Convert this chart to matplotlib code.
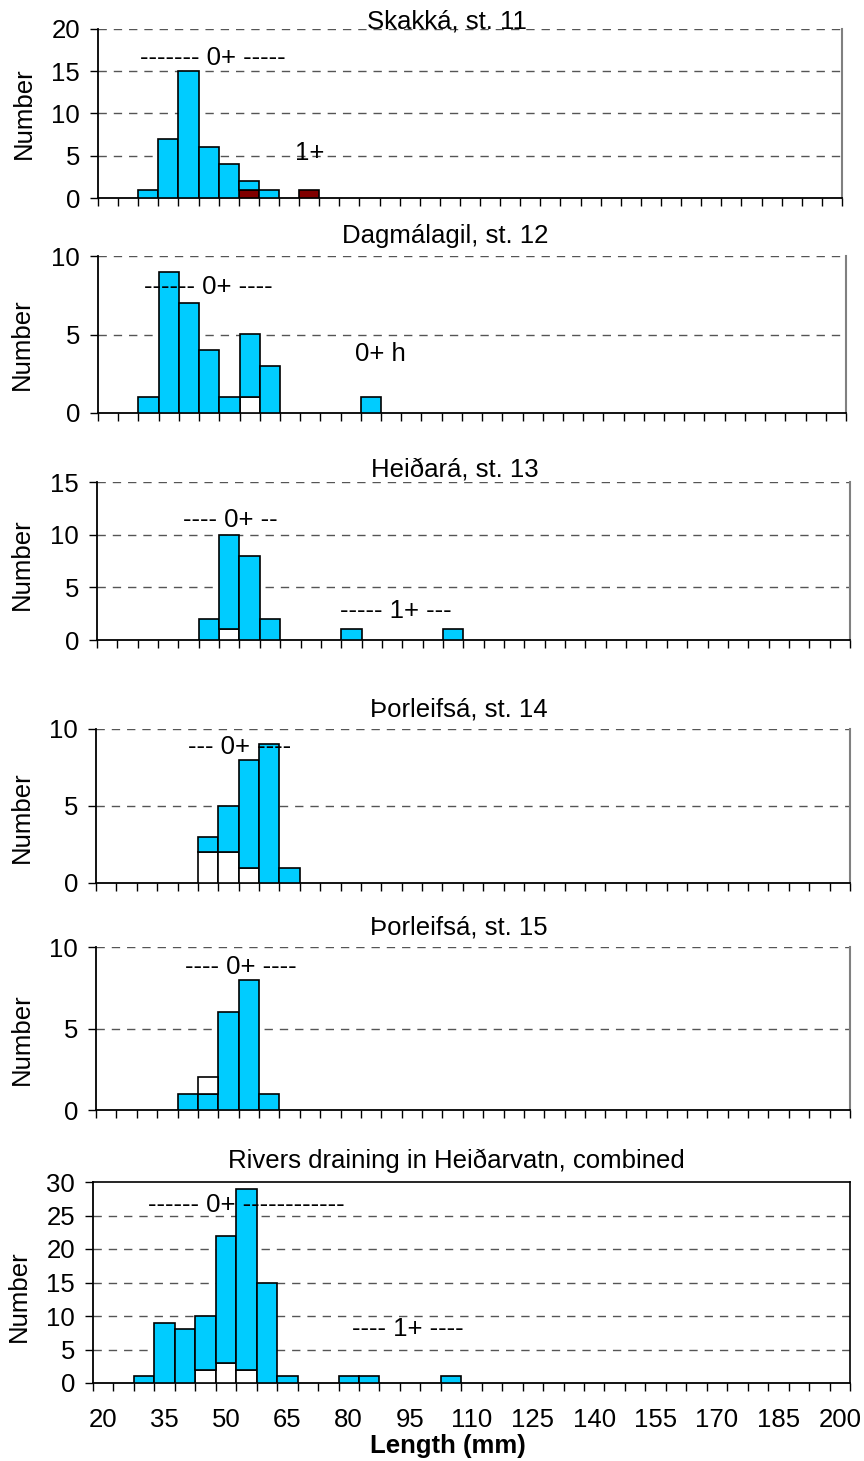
import matplotlib
matplotlib.use("Agg")
import matplotlib.pyplot as plt
import numpy as np

plt.rcParams['font.family'] = ['Liberation Sans', 'DejaVu Sans']

W, H = 864, 1461           # figure size, px
FS = 18.5                  # font size used everywhere
CYAN = '#00CCFF'
DARK_RED = '#800000'
WHITE = '#FFFFFF'
GRID = '#555555'

# length classes (mm), 5 mm wide
length_bins = np.arange(20, 205, 5)
length_labels = np.arange(20, 205, 15)

# Skakká, st. 11
skakka_len = [30, 35, 40, 45, 50, 55, 60, 70]
skakka_red = [0, 0, 0, 0, 0, 1, 0, 1]
skakka_cyan = [1, 7, 15, 6, 4, 1, 1, 0]

# Dagmálagil, st. 12
dagmal_len = [30, 35, 40, 45, 50, 55, 60, 85]
dagmal_white = [0, 0, 0, 0, 0, 1, 0, 0]
dagmal_cyan = [1, 9, 7, 4, 1, 4, 3, 1]

# Heiðará, st. 13
heidara_len = [45, 50, 55, 60, 80, 105]
heidara_white = [0, 1, 0, 0, 0, 0]
heidara_cyan = [2, 9, 8, 2, 1, 1]

# Þorleifsá, st. 14
thorl14_len = [45, 50, 55, 60, 65]
thorl14_white = [2, 2, 1, 0, 0]
thorl14_cyan = [1, 3, 7, 9, 1]

# Þorleifsá, st. 15
thorl15_len = [40, 45, 50, 55, 60]
thorl15_cyan = [1, 1, 6, 8, 1]
thorl15_white = [0, 1, 0, 0, 0]

# Heiðarvatn rivers combined
comb_len = [30, 35, 40, 45, 50, 55, 60, 65, 80, 85, 105]
comb_white = [0, 0, 0, 2, 3, 2, 0, 0, 0, 0, 0]
comb_cyan = [1, 9, 8, 8, 19, 27, 15, 1, 1, 1, 1]

# one entry per panel: axes box in px (left, top, right, bottom),
# stacked layers bottom -> top, notes as (x mm, y, text)
panels = [
    dict(title="Skakká, st. 11", box=(98, 29, 842, 198), ymax=20, title_xy=(447, 28), ylab_xy=(24, 113),
         lengths=skakka_len, layers=[(skakka_red, DARK_RED), (skakka_cyan, CYAN)],
         notes=[(46.1, 16.6, "------- 0+ -----"), (70.2, 5.3, "1+")]),
    dict(title="Dagmálagil, st. 12", box=(98, 256, 846, 413), ymax=10, title_xy=(445, 243), ylab_xy=(22, 344),
         lengths=dagmal_len, layers=[(dagmal_white, WHITE), (dagmal_cyan, CYAN)],
         notes=[(44.7, 8.0, "------ 0+ ----"), (87.3, 3.76, "0+ h")]),
    dict(title="Heiðará, st. 13", box=(97, 482, 850, 640), ymax=15, title_xy=(455, 476), ylab_xy=(22, 564),
         lengths=heidara_len, layers=[(heidara_white, WHITE), (heidara_cyan, CYAN)],
         notes=[(50.2, 11.4, "---- 0+ --"), (90.8, 2.75, "----- 1+ ---")]),
    dict(title="Þorleifsá, st. 14", box=(96, 729, 850, 883), ymax=10, title_xy=(459, 716), ylab_xy=(22, 817),
         lengths=thorl14_len, layers=[(thorl14_white, WHITE), (thorl14_cyan, CYAN)],
         notes=[(52.8, 8.83, "--- 0+ ----")]),
    dict(title="Þorleifsá, st. 15", box=(96, 947, 850, 1110), ymax=10, title_xy=(459, 935), ylab_xy=(22, 1039),
         lengths=thorl15_len, layers=[(thorl15_cyan, CYAN), (thorl15_white, WHITE)],
         notes=[(53.1, 8.77, "---- 0+ ----")]),
    dict(title="Rivers draining in Heiðarvatn, combined", box=(93, 1182, 850, 1383), ymax=30,
         title_xy=(456, 1168), ylab_xy=(19, 1296),
         lengths=comb_len, layers=[(comb_white, WHITE), (comb_cyan, CYAN)],
         notes=[(54.9, 26.6, "------ 0+ ------------"), (94.5, 8.1, "---- 1+ ----")]),
]

fig = plt.figure(figsize=(W / 100, H / 100), dpi=100)
fig.patch.set_facecolor('white')

for n, p in enumerate(panels):
    last = n == len(panels) - 1
    l, t, r, b = p['box']
    ax = fig.add_axes([l / W, 1 - b / H, (r - l) / W, (b - t) / H])

    # stacked columns
    bottom = np.zeros(len(p['lengths']))
    for vals, col in p['layers']:
        vals = np.array(vals, dtype=float)
        keep = vals > 0
        ax.bar(np.array(p['lengths'])[keep], vals[keep], width=5, bottom=bottom[keep],
               color=col, edgecolor='black', linewidth=1.2, zorder=3)
        bottom += vals

    ax.set_xlim(length_bins[0] - 2.5, length_bins[-1] + 2.5)
    ax.set_ylim(0, p['ymax'])

    # y axis
    yt = np.arange(0, p['ymax'] + 1, 5)
    ax.set_yticks(yt)
    ax.tick_params(axis='y', direction='out', length=6, width=1, pad=7, labelsize=FS)
    for y in yt[1:]:
        if last and y == p['ymax']:
            continue
        ax.axhline(y, color=GRID, lw=1, ls=(0, (6, 5)), zorder=1)

    # x axis: ticks at class boundaries, labels every third class
    ax.set_xticks(np.append(length_bins - 2.5, length_bins[-1] + 2.5), minor=True)
    ax.tick_params(axis='x', which='minor', direction='out', length=6, width=1)
    ax.set_xticks(length_labels)
    ax.tick_params(axis='x', which='major', length=0, pad=18, labelsize=FS)
    if not last:
        ax.set_xticklabels([])

    for side in ('left', 'bottom'):
        ax.spines[side].set_color('black')
        ax.spines[side].set_linewidth(1.3)
    if last:
        ax.spines['top'].set_color('black')
        ax.spines['right'].set_color('black')
        ax.spines['top'].set_linewidth(1.2)
        ax.spines['right'].set_linewidth(1.2)
    else:
        ax.spines['top'].set_visible(False)
        ax.spines['right'].set_color('#808080')
        ax.spines['right'].set_linewidth(1.5)

    for x, y, s in p['notes']:
        ax.text(x, y, s, ha='center', va='center', fontsize=FS, zorder=5)

    tx, ty = p['title_xy']
    fig.text(tx / W, 1 - ty / H, p['title'], ha='center', va='baseline', fontsize=FS)
    lx, ly = p['ylab_xy']
    fig.text(lx / W, 1 - ly / H, "Number", rotation=90, ha='center', va='center', fontsize=FS)

fig.text(448 / W, 1 - 1446 / H, "Length (mm)", ha='center', va='center', fontsize=FS, fontweight='bold')

fig.savefig("out.png", dpi=100)
